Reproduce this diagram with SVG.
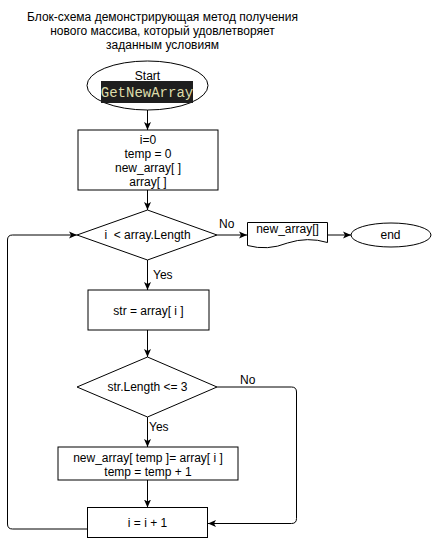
<svg xmlns="http://www.w3.org/2000/svg" width="432" height="538" viewBox="0 0 432 538">
<style>
  .s{fill:#fff;stroke:#000;stroke-width:1}
  .t{font-family:"Liberation Sans",Arial,sans-serif;font-size:12px;fill:#000;text-anchor:middle}
  .l{font-family:"Liberation Sans",Arial,sans-serif;font-size:12px;fill:#000}
  .c{fill:none;stroke:#000;stroke-width:1}
</style>
<defs>
  <marker id="arr" viewBox="0 0 8 8" refX="8" refY="4" markerWidth="8" markerHeight="8" markerUnits="userSpaceOnUse" orient="auto">
    <path d="M0,0.5 L8,4 L0,7.5 L2,4 Z" fill="#000"/>
  </marker>
</defs>
<rect width="432" height="538" fill="#fff"/>
<g id="title">
  <text class="t" x="162.5" y="20.5">Блок-схема демонстрирующая метод получения</text>
  <text class="t" x="162.5" y="34.5">нового массива, который удовлетворяет</text>
  <text class="t" x="162.5" y="48.5">заданным условиям</text>
</g>
<g id="connectors">
  <path class="c" d="M147.5,110 V130" marker-end="url(#arr)"/>
  <path class="c" d="M147.5,190 V210" marker-end="url(#arr)"/>
  <path class="c" d="M217,235 H247" marker-end="url(#arr)"/>
  <path class="c" d="M327.5,235 H351" marker-end="url(#arr)"/>
  <path class="c" d="M147.5,260 V290" marker-end="url(#arr)"/>
  <path class="c" d="M147.5,330 V357" marker-end="url(#arr)"/>
  <path class="c" d="M217,387 H291.5 Q296.5,387 296.5,392 V518.5 Q296.5,523.5 291.5,523.5 H208" marker-end="url(#arr)"/>
  <path class="c" d="M147.5,417 V447" marker-end="url(#arr)"/>
  <path class="c" d="M147.5,480 V507.5" marker-end="url(#arr)"/>
  <path class="c" d="M87.5,529 H12.5 Q7.5,529 7.5,524 V240 Q7.5,235 12.5,235 H77" marker-end="url(#arr)"/>
  <text class="l" x="219" y="228">No</text>
  <text class="l" x="153" y="279">Yes</text>
  <text class="l" x="240" y="384">No</text>
  <text class="l" x="149" y="431">Yes</text>
</g>
<g id="start">
  <ellipse class="s" cx="147.5" cy="85.5" rx="60.5" ry="24.5"/>
  <text class="t" x="147.5" y="79.5">Start</text>
  <rect x="101" y="81" width="92" height="22" fill="#1e1e1e"/>
  <text x="147" y="97" font-family="'Liberation Mono','DejaVu Sans Mono',monospace" font-size="14" fill="#dcdcaa" text-anchor="middle">GetNewArray</text>
</g>
<g id="init">
  <rect class="s" x="78" y="130" width="140" height="60"/>
  <text class="t" x="148" y="144">i=0</text>
  <text class="t" x="148" y="158">temp = 0</text>
  <text class="t" x="148" y="172">new_array[ ]</text>
  <text class="t" x="148" y="186">array[ ]</text>
</g>
<g id="cond1">
  <polygon class="s" points="147.5,210 217,235 147.5,260 77,235"/>
  <text class="t" x="147.5" y="239">i &#160;&lt; array.Length</text>
</g>
<g id="output">
  <path class="s" d="M247.5,222.5 H327.5 V242.5 Q307.5,236.5 287.5,243 Q267.5,251 247.5,245.5 Z"/>
  <text class="t" x="287.5" y="233">new_array[]</text>
</g>
<g id="end">
  <ellipse class="s" cx="391" cy="235" rx="40" ry="12"/>
  <text class="t" x="390.5" y="238.5">end</text>
</g>
<g id="assign">
  <rect class="s" x="88" y="290" width="121" height="40"/>
  <text class="t" x="148.5" y="314.5">str = array[ i ]</text>
</g>
<g id="cond2">
  <polygon class="s" points="147.5,357 217,387 147.5,417 77,387"/>
  <text class="t" x="147.5" y="391">str.Length &lt;= 3</text>
</g>
<g id="add">
  <rect class="s" x="58" y="447" width="180" height="33"/>
  <text class="t" x="148" y="461.5">new_array[ temp ]= array[ i ]</text>
  <text class="t" x="148" y="476">temp = temp + 1</text>
</g>
<g id="inc">
  <rect class="s" x="87.5" y="507.5" width="120" height="30"/>
  <text class="t" x="147.5" y="526.5">i = i + 1</text>
</g>
</svg>
